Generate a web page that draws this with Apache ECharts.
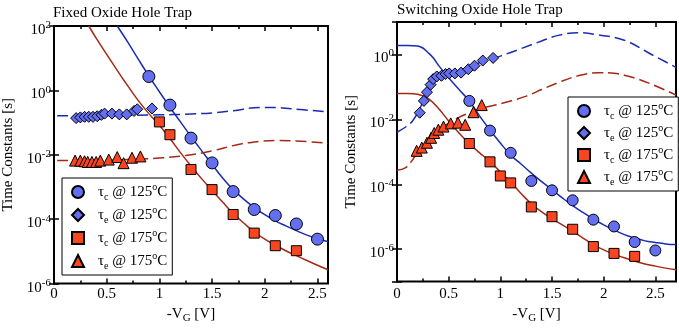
<!DOCTYPE html>
<html>
<head>
<meta charset="utf-8">
<script src="https://cdn.jsdelivr.net/npm/echarts@6/dist/echarts.min.js"></script>
<style>
  html, body { margin: 0; padding: 0; background: #fff; }
  #chart { width: 679px; height: 329px; }
</style>
</head>
<body>
<div id="chart"></div>
<script>
// -VG [V] vs time constant [s]

// Fixed oxide hole trap (left panel)
const fixTc125 = [[0.9, 2.7], [1.1, 0.35], [1.3, 0.033], [1.5, 5.6e-3], [1.7, 7.2e-4], [1.9, 2.0e-4], [2.1, 1.3e-4], [2.3, 7.1e-5], [2.5, 2.4e-5]];
const fixTe125 = [[0.21, 0.138], [0.25, 0.145], [0.29, 0.151], [0.33, 0.151], [0.37, 0.151], [0.41, 0.158], [0.45, 0.174], [0.48, 0.19], [0.55, 0.19], [0.62, 0.18], [0.69, 0.18], [0.76, 0.23], [0.79, 0.26], [0.93, 0.275]];
const fixTc175 = [[1.0, 0.105], [1.1, 0.042], [1.3, 3.5e-3], [1.5, 8.3e-4], [1.7, 1.4e-4], [1.9, 3.7e-5], [2.1, 1.5e-5], [2.3, 1.05e-5]];
const fixTe175 = [[0.2, 6.6e-3], [0.25, 6.6e-3], [0.29, 6.3e-3], [0.32, 6.0e-3], [0.36, 6.0e-3], [0.4, 6.0e-3], [0.44, 6.6e-3], [0.52, 7.1e-3], [0.6, 8.5e-3], [0.66, 5.5e-3], [0.74, 8.1e-3], [0.82, 8.9e-3]];

const fixFitC125 = [[0.6, 100], [0.7, 31.6], [0.8, 9.3], [0.9, 2.8], [1.0, 0.91], [1.1, 0.30], [1.2, 0.105], [1.3, 0.037], [1.4, 0.0135], [1.5, 5.0e-3], [1.6, 1.9e-3], [1.7, 8.3e-4], [1.8, 4.2e-4], [1.9, 2.3e-4], [2.0, 1.38e-4], [2.1, 8.9e-5], [2.2, 6.2e-5], [2.3, 4.4e-5], [2.4, 3.2e-5], [2.5, 2.5e-5], [2.6, 2.0e-5]];
const fixFitC175 = [[0.33, 100], [0.4, 42], [0.5, 13.2], [0.6, 4.2], [0.7, 1.38], [0.8, 0.48], [0.9, 0.19], [1.0, 0.083], [1.1, 0.032], [1.2, 0.0117], [1.3, 4.5e-3], [1.4, 1.82e-3], [1.5, 7.9e-4], [1.6, 3.4e-4], [1.7, 1.5e-4], [1.8, 7.6e-5], [1.9, 4.0e-5], [2.0, 2.4e-5], [2.1, 1.55e-5], [2.2, 1.05e-5], [2.3, 7.4e-6], [2.4, 5.2e-6], [2.5, 3.7e-6], [2.6, 2.7e-6]];
const fixFitE125 = [[0.03, 0.162], [0.5, 0.166], [1.0, 0.174], [1.25, 0.182], [1.5, 0.2], [1.7, 0.234], [1.95, 0.295], [2.1, 0.295], [2.25, 0.27], [2.6, 0.214]];
const fixFitE175 = [[0.03, 6.6e-3], [0.5, 6.8e-3], [0.8, 7.4e-3], [1.0, 7.9e-3], [1.25, 9.5e-3], [1.5, 0.0132], [1.75, 0.021], [1.95, 0.026], [2.1, 0.028], [2.3, 0.027], [2.6, 0.023]];

// Switching oxide hole trap (right panel)
const swTc125 = [[0.7, 0.037], [0.9, 4.5e-3], [1.1, 9.3e-4], [1.3, 1.26e-4], [1.5, 6.5e-5], [1.7, 3.2e-5], [1.9, 8.1e-6], [2.1, 5.0e-6], [2.3, 1.66e-6], [2.5, 9.1e-7]];
const swTe125 = [[0.22, 0.016], [0.26, 0.037], [0.29, 0.069], [0.325, 0.117], [0.35, 0.174], [0.385, 0.21], [0.43, 0.22], [0.47, 0.25], [0.505, 0.26], [0.56, 0.26], [0.62, 0.275], [0.69, 0.35], [0.75, 0.45], [0.83, 0.65], [0.93, 0.78]];
const swTc175 = [[0.7, 1.8e-3], [0.9, 4.9e-4], [1.0, 1.8e-4], [1.1, 1.1e-4], [1.3, 2.0e-5], [1.5, 1.0e-5], [1.7, 4.1e-6], [1.9, 1.2e-6], [2.1, 7.4e-7], [2.3, 6.0e-7]];
const swTe175 = [[0.19, 1.07e-3], [0.24, 1.35e-3], [0.29, 1.9e-3], [0.33, 2.7e-3], [0.36, 3.8e-3], [0.4, 4.8e-3], [0.45, 6.0e-3], [0.52, 7.5e-3], [0.59, 7.9e-3], [0.66, 6.8e-3], [0.74, 0.0166], [0.82, 0.0275]];

const swFitC125 = [[0, 1.9], [0.1, 1.9], [0.2, 1.82], [0.25, 1.58], [0.3, 1.15], [0.35, 0.79], [0.4, 0.47], [0.5, 0.19], [0.6, 0.083], [0.7, 0.037], [0.8, 0.0126], [0.9, 4.7e-3], [1.0, 1.86e-3], [1.1, 7.9e-4], [1.2, 4.2e-4], [1.3, 2.2e-4], [1.4, 1.2e-4], [1.5, 6.8e-5], [1.6, 3.8e-5], [1.7, 2.2e-5], [1.8, 1.35e-5], [1.9, 8.5e-6], [2.0, 5.6e-6], [2.1, 3.9e-6], [2.2, 2.8e-6], [2.3, 2.2e-6], [2.4, 1.8e-6], [2.5, 1.6e-6], [2.6, 1.45e-6], [2.7, 1.38e-6]];
const swFitC175 = [[0, 0.063], [0.1, 0.063], [0.2, 0.059], [0.3, 0.044], [0.4, 0.022], [0.5, 8.9e-3], [0.6, 3.8e-3], [0.7, 1.78e-3], [0.8, 9.3e-4], [0.9, 5.0e-4], [1.0, 2.4e-4], [1.1, 1.15e-4], [1.2, 5.2e-5], [1.3, 2.5e-5], [1.4, 1.4e-5], [1.5, 8.7e-6], [1.6, 5.6e-6], [1.7, 3.6e-6], [1.8, 2.2e-6], [1.9, 1.38e-6], [2.0, 9.5e-7], [2.1, 7.1e-7], [2.2, 5.4e-7], [2.3, 4.3e-7], [2.4, 3.5e-7], [2.5, 3.0e-7], [2.6, 2.6e-7], [2.7, 2.3e-7]];
const swFitE125 = [[0, 4.0e-3], [0.1, 6.3e-3], [0.15, 8.9e-3], [0.2, 0.0158], [0.25, 0.035], [0.3, 0.089], [0.35, 0.166], [0.4, 0.224], [0.5, 0.28], [0.6, 0.33], [0.7, 0.42], [0.8, 0.56], [0.9, 0.71], [1.0, 0.89], [1.2, 1.51], [1.4, 2.6], [1.55, 3.8], [1.75, 4.7], [1.95, 4.0], [2.2, 2.75], [2.45, 1.05], [2.7, 0.4]];
const swFitE175 = [[0, 2.7e-4], [0.08, 3.2e-4], [0.15, 5.6e-4], [0.2, 1.0e-3], [0.3, 2.2e-3], [0.4, 4.5e-3], [0.5, 7.6e-3], [0.6, 0.0115], [0.7, 0.0158], [0.8, 0.021], [0.95, 0.0275], [1.1, 0.037], [1.25, 0.052], [1.4, 0.083], [1.55, 0.132], [1.75, 0.219], [1.95, 0.275], [2.1, 0.263], [2.25, 0.209], [2.45, 0.126], [2.7, 0.056]];

// legend entries: [kind subscript, temperature]
const legendText = {
  fTc125: ['c', '125'], fTe125: ['e', '125'], fTc175: ['c', '175'], fTe175: ['e', '175'],
  sTc125: ['c', '125'], sTe125: ['e', '125'], sTc175: ['c', '175'], sTe175: ['e', '175'],
};

const FONT = 'Liberation Serif';
const blueFill = '#646ef0';
const redFill = '#fa4620';
const blueLine = '#1a2cb4';
const redLine = '#a52a16';

const rich = {
  gap: { width: 9, lineHeight: 20 },
  b: { fontFamily: FONT, fontSize: 15, color: '#000', lineHeight: 20, verticalAlign: 'middle' },
  sup: { fontFamily: FONT, fontSize: 10, color: '#000', lineHeight: 10, verticalAlign: 'top' },
  sub: { fontFamily: FONT, fontSize: 10, color: '#000', lineHeight: 11, verticalAlign: 'bottom' },
  ysup: { fontFamily: FONT, fontSize: 11, color: '#000', lineHeight: 4, verticalAlign: 'top' },
  gsub: { fontFamily: FONT, fontSize: 11, color: '#000', lineHeight: 4, verticalAlign: 'bottom' },
};

function decadeLabel(v) {
  const e = Math.round(Math.log10(v));
  if (e % 2 !== 0) return '';
  return '{b|10}{ysup|' + e + '}';
}

const tickStyle = { color: '#000', width: 1.5 };

function xAxes(gi, max, margin, nameGap) {
  const base = { gridIndex: gi, type: 'value', min: 0, max: max, axisLine: { show: false }, splitLine: { show: false } };
  return [
    Object.assign({}, base, {
      position: 'bottom', interval: 0.5,
      axisTick: { inside: true, length: 5, lineStyle: tickStyle },
      axisLabel: {
        margin: margin, fontFamily: FONT, fontSize: 15, color: '#000',
        formatter: v => (v > 2.55 ? '' : String(v)),
      },
      name: '{b|-V}{gsub|G}{b| [V]}', nameLocation: 'middle', nameGap: nameGap,
      nameTextStyle: { rich: rich },
    }),
    Object.assign({}, base, { position: 'bottom', interval: 0.25, axisTick: { inside: true, length: 3, lineStyle: tickStyle }, axisLabel: { show: false } }),
    Object.assign({}, base, { position: 'top', interval: 0.5, axisTick: { inside: true, length: 5, lineStyle: tickStyle }, axisLabel: { show: false } }),
    Object.assign({}, base, { position: 'top', interval: 0.25, axisTick: { inside: true, length: 3, lineStyle: tickStyle }, axisLabel: { show: false } }),
  ];
}

function yAxes(gi, min, max, pad) {
  const base = { gridIndex: gi, type: 'log', logBase: 100, min: min, max: max, axisLine: { show: false }, splitLine: { show: false }, minorTick: { show: false } };
  return [
    Object.assign({}, base, {
      position: 'left',
      axisTick: { inside: true, length: 5, lineStyle: tickStyle },
      axisLabel: { margin: 3, formatter: decadeLabel, rich: rich, padding: [pad, 0, 0, 0] },
      name: 'Time Constants [s]', nameLocation: 'middle', nameGap: 38,
      nameTextStyle: { fontFamily: FONT, fontSize: 15, color: '#000' },
    }),
    Object.assign({}, base, { position: 'right', axisTick: { inside: true, length: 5, lineStyle: tickStyle }, axisLabel: { show: false } }),
  ];
}

function marks(name, data, symbol, size, fill, xi, yi) {
  return {
    name: name, type: 'scatter', data: data, symbol: symbol, symbolSize: size,
    xAxisIndex: xi, yAxisIndex: yi, z: 5,
    itemStyle: { color: fill, borderColor: '#000', borderWidth: 1, opacity: 1 },
  };
}

function curve(data, color, dashed, xi, yi) {
  return {
    type: 'line', data: data, xAxisIndex: xi, yAxisIndex: yi, showSymbol: false, symbol: 'none',
    smooth: 0.4, z: 3, silent: true,
    lineStyle: { color: color, width: 1.5, type: dashed ? [11, 5] : 'solid' },
  };
}

function legend(left, top, names, gap) {
  return {
    left: left, top: top, orient: 'vertical', data: names, selectedMode: false,
    itemWidth: 12, itemHeight: 12, itemGap: gap, padding: [4, 5, 4, 9],
    backgroundColor: '#fff', borderColor: '#000', borderWidth: 1,
    formatter: n => '{gap| }{b|\u03c4}{sub|' + legendText[n][0] + '}{b| @ ' + legendText[n][1] + '}{sup|o}{b|C}',
    textStyle: { rich: rich },
  };
}

const titleStyle = { fontFamily: FONT, fontSize: 15, fontWeight: 'normal', color: '#000' };

const chart = echarts.init(document.getElementById('chart'));
chart.setOption({
  animation: false,
  backgroundColor: '#fff',
  title: [
    { text: 'Fixed Oxide Hole Trap', left: 53, top: 6, padding: 0, textStyle: titleStyle },
    { text: 'Switching Oxide Hole Trap', left: 397, top: 3, padding: 0, textStyle: titleStyle },
  ],
  grid: [
    { left: 53, top: 26, width: 275, height: 260, show: true, borderColor: '#000', borderWidth: 2 },
    { left: 397, top: 22, width: 285, height: 267, show: true, borderColor: '#000', borderWidth: 2 },
  ],
  xAxis: xAxes(0, 2.6, 3, 12).concat(xAxes(1, 2.7, 5, 15)),
  yAxis: yAxes(0, 1e-6, 100, 8).concat(yAxes(1, 1e-7, 10, 7)),
  legend: [
    legend(62, 178, ['fTc125', 'fTe125', 'fTc175', 'fTe175'], 3),
    legend(568, 97, ['sTc125', 'sTe125', 'sTc175', 'sTe175'], 2),
  ],
  series: [
    curve(fixFitC125, blueLine, false, 0, 0),
    curve(fixFitC175, redLine, false, 0, 0),
    curve(fixFitE125, blueLine, true, 0, 0),
    curve(fixFitE175, redLine, true, 0, 0),
    marks('fTc125', fixTc125, 'circle', 12, blueFill, 0, 0),
    marks('fTe125', fixTe125, 'diamond', 11, blueFill, 0, 0),
    marks('fTc175', fixTc175, 'rect', 10, redFill, 0, 0),
    marks('fTe175', fixTe175, 'triangle', 11, redFill, 0, 0),

    curve(swFitC125, blueLine, false, 4, 2),
    curve(swFitC175, redLine, false, 4, 2),
    curve(swFitE125, blueLine, true, 4, 2),
    curve(swFitE175, redLine, true, 4, 2),
    marks('sTc125', swTc125, 'circle', 11, blueFill, 4, 2),
    marks('sTe125', swTe125, 'diamond', 11, blueFill, 4, 2),
    marks('sTc175', swTc175, 'rect', 10, redFill, 4, 2),
    marks('sTe175', swTe175, 'triangle', 11, redFill, 4, 2),
  ],
});
</script>
</body>
</html>
